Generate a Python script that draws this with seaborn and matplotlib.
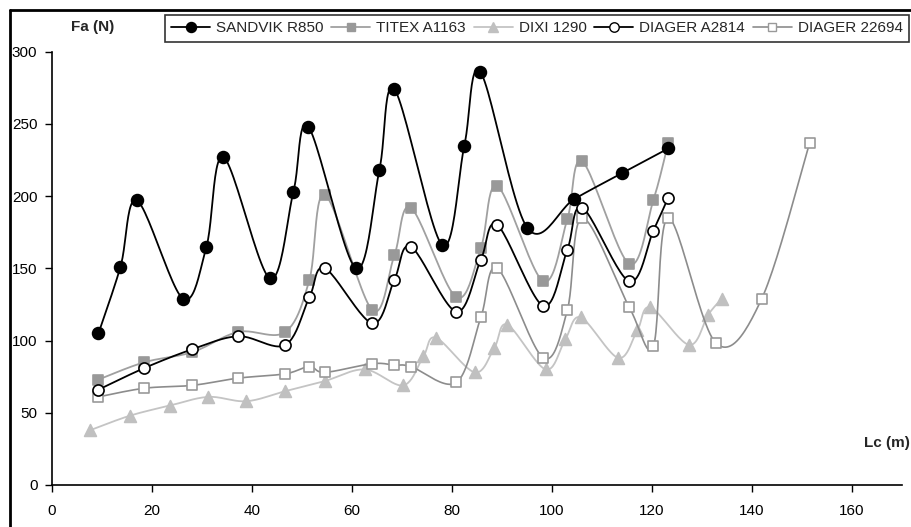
import numpy as np
import pandas as pd
import matplotlib
matplotlib.use("Agg")
import matplotlib.pyplot as plt
from matplotlib.lines import Line2D
import seaborn as sns

# Axial force Fa (N) against cutting length Lc (m) for five drills
sandvik_x = [9.3, 13.7, 17.0, 26.2, 30.9, 34.3, 43.6, 48.3, 51.3, 60.8, 65.5, 68.5,
             78.1, 82.5, 85.7, 95.1, 104.5, 114.1, 123.3]
sandvik_y = [105, 151, 197, 129, 165, 227, 143, 203, 248, 150, 218, 274,
             166, 235, 286, 178, 198, 216, 233]

titex_x = [9.3, 18.5, 28.1, 37.3, 46.7, 51.5, 54.6, 64.1, 68.5, 71.8, 80.9, 85.8,
           89.1, 98.3, 103.1, 106.1, 115.5, 120.3, 123.3]
titex_y = [73, 85, 92, 106, 106, 142, 201, 121, 159, 192, 130, 164,
           207, 141, 184, 224, 153, 197, 237]

dixi_x = [7.7, 15.6, 23.6, 31.3, 38.9, 46.7, 54.6, 62.6, 70.3, 74.3, 76.8, 84.6,
          88.5, 91.1, 98.8, 102.7, 105.8, 113.3, 117.1, 119.7, 127.5, 131.3, 134.0]
dixi_y = [38, 48, 55, 61, 58, 65, 72, 80, 69, 89, 102, 78,
          95, 111, 80, 101, 116, 88, 107, 123, 97, 118, 129]

diager_a_x = [9.3, 18.5, 28.1, 37.3, 46.7, 51.5, 54.6, 64.1, 68.5, 71.8, 80.9, 85.8,
              89.1, 98.3, 103.1, 106.1, 115.5, 120.3, 123.3]
diager_a_y = [66, 81, 94, 103, 97, 130, 150, 112, 142, 165, 120, 156,
              180, 124, 163, 192, 141, 176, 199]

diager_b_x = [9.3, 18.5, 28.1, 37.3, 46.7, 51.5, 54.6, 64.1, 68.5, 71.8, 80.9, 85.8,
              89.1, 98.3, 103.1, 106.1, 115.5, 120.3, 123.3, 132.9, 142.0, 151.6]
diager_b_y = [61, 67, 69, 74, 77, 82, 78, 84, 83, 82, 71, 116,
              150, 88, 121, 185, 123, 96, 185, 98, 129, 237]

series_names = ["SANDVIK R850", "TITEX A1163", "DIXI 1290", "DIAGER A2814", "DIAGER 22694"]
x_ticks = [0, 20, 40, 60, 80, 100, 120, 140, 160]
y_ticks = [0, 50, 100, 150, 200, 250, 300]


def smooth(x, y, n=24):
    """Catmull-Rom curve through the points (Bezier handles = neighbour span / 6)."""
    p = np.column_stack([x, y]).astype(float)
    pts = [p[0]]
    t = np.linspace(0, 1, n + 1)[1:]
    for i in range(len(p) - 1):
        p0 = p[i - 1] if i > 0 else p[i]
        p1, p2 = p[i], p[i + 1]
        p3 = p[i + 2] if i + 2 < len(p) else p[i + 1]
        c1 = p1 + (p2 - p0) / 6.0
        c2 = p2 - (p3 - p1) / 6.0
        for tt in t:
            b = ((1 - tt) ** 3) * p1 + 3 * ((1 - tt) ** 2) * tt * c1 \
                + 3 * (1 - tt) * tt ** 2 * c2 + tt ** 3 * p2
            pts.append(b)
    pts = np.array(pts)
    return pts[:, 0], pts[:, 1]


sns.set_theme(style="white")
plt.rcParams["font.family"] = ["Liberation Sans", "DejaVu Sans"]

FS = 11

fig = plt.figure(figsize=(9.12, 5.27), dpi=100)
ax = fig.add_axes([0.057, 0.0797, 0.9317, 0.8222])

styles = [
    dict(x=sandvik_x, y=sandvik_y, line="#000000", marker="o", face="#000000",
         edge="#000000", ms=8.5, lw=1.3, z=6),
    dict(x=titex_x, y=titex_y, line="#A0A0A0", marker="s", face="#999999",
         edge="#999999", ms=7.5, lw=1.3, z=3),
    dict(x=dixi_x, y=dixi_y, line="#C4C4C4", marker="^", face="#C0C0C0",
         edge="#C0C0C0", ms=8.5, lw=1.3, z=2),
    dict(x=diager_a_x, y=diager_a_y, line="#000000", marker="o", face="#FFFFFF",
         edge="#000000", ms=8, lw=1.3, z=5),
    dict(x=diager_b_x, y=diager_b_y, line="#8C8C8C", marker="s", face="#FFFFFF",
         edge="#999999", ms=7.5, lw=1.2, z=4),
]

handles = []
for name, s in zip(series_names, styles):
    sx, sy = smooth(s["x"], s["y"])
    curve = pd.DataFrame({"Lc": sx, "Fa": sy})
    sns.lineplot(data=curve, x="Lc", y="Fa", sort=False, estimator=None, ax=ax,
                 color=s["line"], linewidth=s["lw"], zorder=s["z"])
    pts = pd.DataFrame({"Lc": s["x"], "Fa": s["y"]})
    sns.scatterplot(data=pts, x="Lc", y="Fa", ax=ax, marker=s["marker"],
                    s=s["ms"] ** 2, color=s["face"], edgecolor=s["edge"],
                    linewidth=1.2, zorder=s["z"] + 0.5)
    handles.append(Line2D([], [], color=s["line"], lw=s["lw"], marker=s["marker"],
                          markersize=s["ms"] * 0.85, markerfacecolor=s["face"],
                          markeredgecolor=s["edge"], markeredgewidth=1.0))

ax.set_xlim(0, 170)
ax.set_ylim(0, 300)
ax.set_xticks(x_ticks)
ax.set_yticks(y_ticks)
ax.set_xlabel("")
ax.set_ylabel("")
for side in ["top", "right"]:
    ax.spines[side].set_visible(False)
for side in ["left", "bottom"]:
    ax.spines[side].set_color("#000000")
    ax.spines[side].set_linewidth(1.2)
ax.tick_params(axis="both", which="major", direction="out", length=5, width=1,
               color="#000000", labelsize=FS, labelcolor="#000000",
               bottom=True, left=True)
ax.tick_params(axis="x", pad=8.5)
ax.tick_params(axis="y", pad=5.5)
ax.grid(False)

fig.text(93 / 912, 1 - 27 / 527, "Fa (N)", ha="center", va="center",
         fontsize=FS, fontweight="bold")
fig.text(887 / 912, 1 - 443 / 527, "Lc (m)", ha="center", va="center",
         fontsize=FS, fontweight="bold")

leg = fig.legend(handles, series_names, ncol=5, loc="center left",
                 bbox_to_anchor=(165 / 912, 1 - 28.5 / 527), frameon=True,
                 fancybox=False, edgecolor="#000000", fontsize=FS,
                 handlelength=2.55, handletextpad=0.4, columnspacing=0.5,
                 borderpad=0.4, borderaxespad=0)
leg.get_frame().set_linewidth(1.2)

# chart-area frame along the left and top edges
fig.add_artist(Line2D([10 / 912, 10 / 912], [0, 1 - 10 / 527], color="#000000",
                      lw=2, transform=fig.transFigure))
fig.add_artist(Line2D([10 / 912, 1], [1 - 10 / 527, 1 - 10 / 527], color="#000000",
                      lw=2, transform=fig.transFigure))

fig.savefig("out.png", dpi=100, facecolor="white")
